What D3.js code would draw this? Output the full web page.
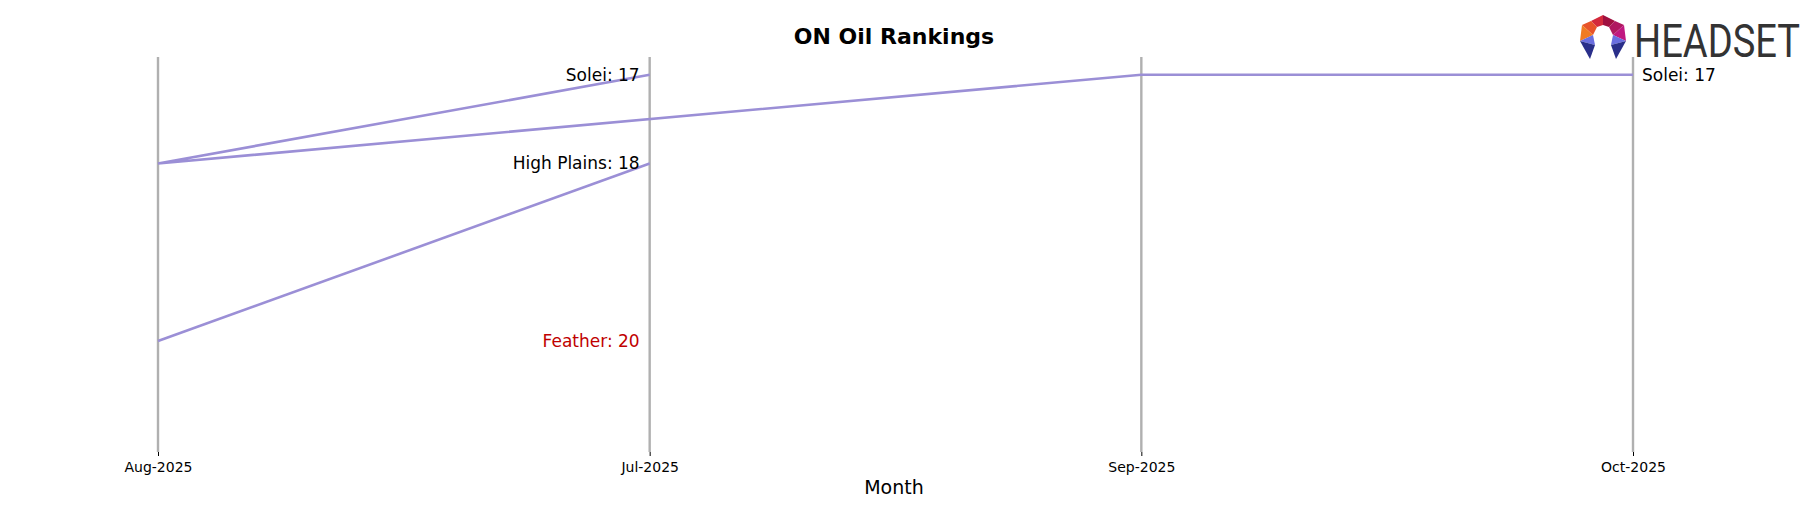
<!DOCTYPE html>
<html>
<head>
<meta charset="utf-8">
<script src="https://cdn.jsdelivr.net/npm/d3@7"></script>
<style>
body { margin: 0; background: #fff; }
text { font-family: "DejaVu Sans", sans-serif; }
</style>
</head>
<body>
<div id="content"></div>
<script>
const months = ["Aug-2025", "Jul-2025", "Sep-2025", "Oct-2025"];
// chronological order per brand
const solei_months = ["Jul-2025", "Aug-2025", "Sep-2025", "Oct-2025"];
const solei_ranks = [17, 18, 17, 17];
const high_plains_months = ["Jul-2025", "Aug-2025"];
const high_plains_ranks = [18, 20];
const feather_months = ["Jul-2025"];
const feather_ranks = [20];

const labels = [
    { month: "Jul-2025", rank: 17, text: "Solei: 17", color: "#000", side: "left" },
    { month: "Jul-2025", rank: 18, text: "High Plains: 18", color: "#000", side: "left" },
    { month: "Jul-2025", rank: 20, text: "Feather: 20", color: "#c00000", side: "left" },
    { month: "Oct-2025", rank: 17, text: "Solei: 17", color: "#000", side: "right" }
];

const width = 1818, height = 507;
const svg = d3.select("#content").append("svg")
    .attr("width", width).attr("height", height);

const x = d3.scalePoint().domain(months).range([158, 1633]);
const y = d3.scaleLinear().domain([16.8, 21.25]).range([57, 452]);

// vertical month lines
svg.selectAll(".vline").data(months).enter().append("line")
    .attr("x1", d => x(d)).attr("x2", d => x(d))
    .attr("y1", y(16.8)).attr("y2", y(21.25))
    .attr("stroke", "#b0b0b0").attr("stroke-width", 2.4);

const xAxis = svg.append("g")
    .attr("transform", "translate(0," + y(21.25) + ")")
    .call(d3.axisBottom(x).tickSize(4).tickPadding(6));
xAxis.select(".domain").remove();
xAxis.selectAll("text").style("font-size", "14px").style("font-family", "DejaVu Sans");

const line = d3.line().x(d => x(d[0])).y(d => y(d[1]));
[[solei_months, solei_ranks], [high_plains_months, high_plains_ranks], [feather_months, feather_ranks]]
    .forEach(function (s) {
        svg.append("path")
            .datum(d3.zip(s[0], s[1]))
            .attr("d", line)
            .attr("fill", "none")
            .attr("stroke", "#9b8fd6")
            .attr("stroke-width", 2.6);
    });

svg.selectAll(".lbl").data(labels).enter().append("text")
    .attr("x", d => d.side === "left" ? x(d.month) - 10 : x(d.month) + 9)
    .attr("y", d => y(d.rank))
    .attr("dy", "0.35em")
    .attr("text-anchor", d => d.side === "left" ? "end" : "start")
    .attr("fill", d => d.color)
    .style("font-size", "17px")
    .text(d => d.text);

svg.append("text")
    .attr("x", 894).attr("y", 44)
    .attr("text-anchor", "middle")
    .style("font-size", "22px").style("font-weight", "bold")
    .text("ON Oil Rankings");

svg.append("text")
    .attr("x", 894).attr("y", 494)
    .attr("text-anchor", "middle")
    .style("font-size", "19px")
    .text("Month");

// logo: faceted ring
const logo = svg.append("g").attr("transform", "translate(1580,15)");
const polys = [
    { p: [[23, 0], [11, 6], [17, 12], [23, 10]], c: "#d42a3c" },
    { p: [[23, 0], [35, 6], [29, 12], [23, 10]], c: "#a01040" },
    { p: [[11, 6], [17, 12], [13, 20], [2, 10]], c: "#e8542a" },
    { p: [[2, 10], [13, 20], [0, 26]], c: "#f07b22" },
    { p: [[35, 6], [29, 12], [33, 20], [44, 10]], c: "#b01860" },
    { p: [[44, 10], [33, 20], [46, 26]], c: "#c01880" },
    { p: [[0, 26], [13, 20], [15, 30]], c: "#6a6ee0" },
    { p: [[46, 26], [33, 20], [31, 30]], c: "#6a6ee0" },
    { p: [[0, 26], [15, 30], [10, 44]], c: "#2a2f8a" },
    { p: [[46, 26], [31, 30], [36, 44]], c: "#2a2f8a" }
];
logo.selectAll("polygon").data(polys).enter().append("polygon")
    .attr("points", d => d.p.map(q => q.join(",")).join(" "))
    .attr("fill", d => d.c);
svg.append("text")
    .attr("x", 1634).attr("y", 57)
    .attr("textLength", 166).attr("lengthAdjust", "spacingAndGlyphs")
    .style("font-size", "46px").style("font-family", "Roboto")
    .attr("fill", "#333")
    .text("HEADSET");
</script>
</body>
</html>
